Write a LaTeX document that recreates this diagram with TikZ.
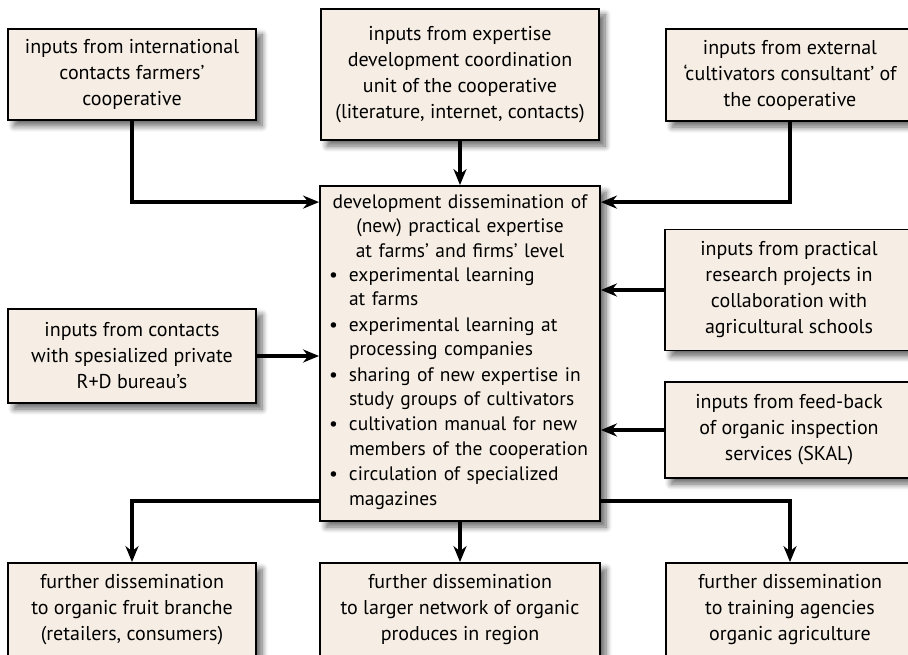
\documentclass[tikz,border=0pt]{standalone}
\usepackage{fontspec}
\setmainfont{PT Sans}
\usetikzlibrary{arrows.meta,shadows.blur}
\definecolor{boxfill}{RGB}{246,238,228}
\newcommand{\blt}[1]{\par\noindent\makebox[20pt][l]{\textbullet}\begin{tabular}[t]{@{}l@{}}#1\end{tabular}\par}

\begin{document}
\begin{tikzpicture}
        [%%%%%%%%%%%%%%%%%%%%%%%%%%%%%%
        x=1pt, y=-1pt,
        box/.style={draw=black, line width=1.8pt, fill=boxfill, align=center, inner sep=0pt,
          font=\fontsize{20}{26}\selectfont,
          blur shadow={shadow xshift=6pt, shadow yshift=-6pt, shadow blur radius=6pt,
            shadow blur steps=8, shadow opacity=60}},
        arr/.style={line width=3.2pt, -{Stealth[length=16pt,width=13pt]}},
        ]%%%%%%%%%%%%%%%%%%%%%%%%%%%%%%
        \useasboundingbox (0,0) rectangle (908,655);
        % Top inputs
        \node[box, minimum width=248pt, minimum height=91pt] (tl) at (132,74.5)
          {inputs from international\\ contacts farmers'\\ cooperative};
        \node[box, minimum width=278pt, minimum height=131pt] (tc) at (460,74.5)
          {inputs from expertise\\ development coordination\\ unit of the cooperative\\ (literature, internet, contacts)};
        \node[box, minimum width=248pt, minimum height=92pt] (tr) at (790,75)
          {inputs from external\\ `cultivators consultant' of\\ the cooperative};
        % Side inputs
        \node[box, minimum width=248pt, minimum height=94pt] (ml) at (132,356)
          {inputs from contacts\\ with spesialized private\\ R+D bureau's};
        \node[box, minimum width=248pt, minimum height=121pt] (rt) at (789,290)
          {inputs from practical\\ research projects in\\ collaboration with\\ agricultural schools};
        \node[box, minimum width=248pt, minimum height=96pt] (rb) at (789,430)
          {inputs from feed-back\\ of organic inspection\\ services (SKAL)};
        % Centre
        \node[box, align=left, text width=262pt, inner xsep=9pt, minimum height=335pt,
          font=\fontsize{19.5}{24.4}\selectfont] (ctr) at (460,353.5)
          {{\centering development dissemination of\\ (new) practical expertise\\ at farms' and firms' level\par}
           \blt{experimental learning\\ at farms}
           \blt{experimental learning at\\ processing companies}
           \blt{sharing of new expertise in\\ study groups of cultivators}
           \blt{cultivation manual for new\\ members of the cooperation}
           \blt{circulation of specialized\\ magazines}};
        % Further dissemination
        \node[box, minimum width=248pt, minimum height=94pt] (bl) at (132,610)
          {further dissemination\\ to organic fruit branche\\ (retailers, consumers)};
        \node[box, minimum width=280pt, minimum height=94pt] (bm) at (460,610)
          {further dissemination\\ to larger network of organic\\ produces in region};
        \node[box, minimum width=248pt, minimum height=94pt] (br) at (790,610)
          {further dissemination\\ to training agencies\\ organic agriculture};
        % Lines
        \draw[arr] (tl) |- ([yshift=-17pt]ctr.north west);
        \draw[arr] (tc) -- (ctr);
        \draw[arr] (tr) |- ([yshift=-17pt]ctr.north east);
        \draw[arr] (ml) -- (ml -| ctr.west);
        \draw[arr] (rt) -- (rt -| ctr.east);
        \draw[arr] (rb) -- (rb -| ctr.east);
        \draw[arr] ([yshift=21pt]ctr.south west) -| (bl);
        \draw[arr] (ctr) -- (bm);
        \draw[arr] ([yshift=21pt]ctr.south east) -| (br);
      \end{tikzpicture}
\end{document}
